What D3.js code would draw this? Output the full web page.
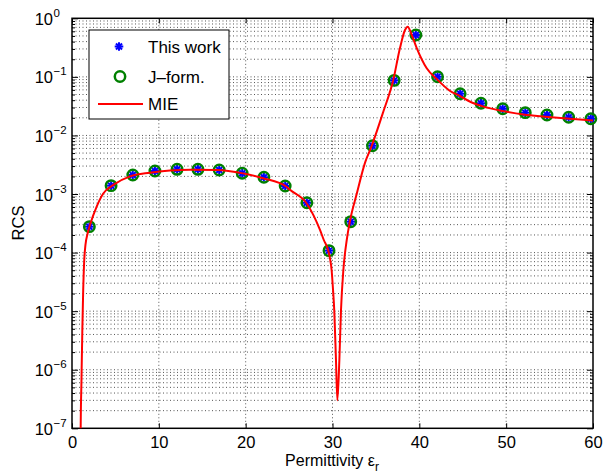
<!DOCTYPE html>
<html>
<head>
<meta charset="utf-8">
<script src="https://cdn.jsdelivr.net/npm/d3@7"></script>
<style>
  body { margin: 0; background: #fff; }
  svg { display: block; font-family: "Liberation Sans", Arial, sans-serif; }
</style>
</head>
<body>
<svg id="chart" width="603" height="475"></svg>
<script>
// permittivity values of the computed points
const pointEps = [2, 4.5, 7, 9.55, 12.1, 14.5, 16.95, 19.6, 22.1, 24.55, 27.05, 29.6,
  32.1, 34.6, 37.1, 39.6, 42.1, 44.7, 47.1, 49.6, 52.2, 54.7, 57.2, 59.75];
// "This work" and "J-form." give the same RCS at these points
const thisWork = [2.77e-4, 1.39e-3, 2.11e-3, 2.47e-3, 2.64e-3, 2.64e-3, 2.57e-3, 2.26e-3,
  1.93e-3, 1.37e-3, 7.1e-4, 1.08e-4, 3.37e-4, 6.68e-3, 8.7e-2, 0.519, 0.1007, 5.16e-2,
  3.54e-2, 2.86e-2, 2.45e-2, 2.23e-2, 2.04e-2, 1.93e-2];
const jForm = thisWork.slice();

// MIE reference curve
const mieEps = [0.99, 1.0, 1.09, 1.19, 1.29, 1.4, 1.55, 1.79, 2.07, 2.84, 3.6, 4.76, 6.68,
  8.98, 11.29, 13.6, 16.7, 19.7, 22.0, 24.7, 25.1, 27.03, 28.56, 29.0, 29.5, 29.7, 29.9,
  30.05, 30.2, 30.4, 30.56, 30.79, 30.98, 31.25, 31.64, 32.0, 32.8, 33.74, 34.51, 35.85,
  37.0, 37.77, 38.35, 38.66, 39.12, 39.7, 40.85, 42.0, 43.5, 44.7, 45.8, 47.4, 49.7, 52,
  54.5, 57, 60];
const mieRcs = [4e-8, 1e-7, 6.6e-7, 4.8e-6, 2.3e-5, 6.9e-5, 1.35e-4, 2.1e-4, 2.95e-4,
  6.1e-4, 1.02e-3, 1.43e-3, 2.0e-3, 2.31e-3, 2.51e-3, 2.6e-3, 2.57e-3, 2.25e-3, 1.86e-3,
  1.33e-3, 1.18e-3, 6.9e-4, 2.44e-4, 1.64e-4, 1.1e-4, 8.1e-5, 5e-5, 2.45e-5, 1.05e-5,
  1.47e-6, 3e-7, 1.47e-6, 1.05e-5, 5e-5, 1.64e-4, 3.4e-4, 1.02e-3, 3.4e-3, 6.6e-3,
  2.54e-2, 8.85e-2, 0.31, 0.63, 0.72, 0.52, 0.31, 0.14, 0.092, 0.058, 0.047, 0.038,
  0.031, 0.026, 0.0228, 0.0209, 0.0194, 0.018];

const xTicks = [0, 10, 20, 30, 40, 50, 60];
const yExponents = [0, -1, -2, -3, -4, -5, -6, -7];
const legendLabels = ["This work", "J\u2013form.", "MIE"];

const pL = 72, pR = 593, pT = 18.3, pB = 428.3;
const svg = d3.select("#chart");

const x = d3.scaleLinear().domain([0, 60]).range([pL, pR]);
const y = d3.scaleLog().domain([1e-7, 1]).range([pB, pT]);

const majorY = yExponents.map((e) => Math.pow(10, e));
const minorY = [];
yExponents.slice(1).forEach((e) => {
  for (let k = 2; k <= 9; k++) minorY.push(k * Math.pow(10, e));
});

// grid
const grid = svg.append("g")
  .attr("stroke", "#000")
  .attr("stroke-opacity", 0.75)
  .attr("stroke-width", 0.9)
  .attr("stroke-dasharray", "1,2.5");
grid.selectAll(".hg")
  .data(majorY.concat(minorY).filter((v) => v > 1e-7 && v < 1))
  .join("line")
  .attr("x1", pL).attr("x2", pR)
  .attr("y1", (d) => y(d)).attr("y2", (d) => y(d));
grid.selectAll(".vg")
  .data(xTicks.slice(1, -1))
  .join("line")
  .attr("y1", pT).attr("y2", pB)
  .attr("x1", (d) => x(d)).attr("x2", (d) => x(d));

// axes
const xAxis = svg.append("g")
  .attr("transform", `translate(0,${pB})`)
  .call(d3.axisBottom(x).tickValues(xTicks).tickSizeInner(-5).tickSizeOuter(0).tickPadding(8));
svg.append("g")
  .attr("transform", `translate(0,${pT})`)
  .call(d3.axisTop(x).tickValues(xTicks).tickSizeInner(-5).tickSizeOuter(0).tickFormat(""));
svg.append("g")
  .attr("transform", `translate(${pL},0)`)
  .call(d3.axisLeft(y).tickValues(majorY).tickSizeInner(-6).tickSizeOuter(0).tickFormat(""));
svg.append("g")
  .attr("transform", `translate(${pR},0)`)
  .call(d3.axisRight(y).tickValues(majorY).tickSizeInner(-6).tickSizeOuter(0).tickFormat(""));
svg.append("g")
  .attr("transform", `translate(${pL},0)`)
  .call(d3.axisLeft(y).tickValues(minorY).tickSizeInner(-3).tickSizeOuter(0).tickFormat(""));
svg.append("g")
  .attr("transform", `translate(${pR},0)`)
  .call(d3.axisRight(y).tickValues(minorY).tickSizeInner(-3).tickSizeOuter(0).tickFormat(""));

svg.selectAll(".domain").remove();
svg.selectAll(".tick line").attr("stroke", "#000").attr("stroke-width", 1);
xAxis.selectAll("text").attr("font-size", 16.5).attr("fill", "#000")
  .attr("font-family", "Liberation Sans, Arial, sans-serif");

// y tick labels: 10 with exponent
const yLab = svg.append("g").attr("fill", "#000");
yExponents.forEach((e) => {
  const ty = y(Math.pow(10, e));
  yLab.append("text")
    .attr("x", 53).attr("y", ty + 6.5)
    .attr("text-anchor", "end")
    .attr("font-size", 16.5)
    .text("10");
  yLab.append("text")
    .attr("x", 53.5).attr("y", ty - 1.5)
    .attr("font-size", 11.5)
    .text(e === 0 ? "0" : "\u2212" + Math.abs(e));
});

// plot box
svg.append("rect")
  .attr("x", pL).attr("y", pT)
  .attr("width", pR - pL).attr("height", pB - pT)
  .attr("fill", "none").attr("stroke", "#000").attr("stroke-width", 1.5);

svg.append("clipPath").attr("id", "plotclip")
  .append("rect")
  .attr("x", pL).attr("y", pT)
  .attr("width", pR - pL).attr("height", pB - pT);

const star = (g, r) => {
  [0, 45, 90, 135].forEach((a) => {
    const dx = r * Math.cos(a * Math.PI / 180), dy = r * Math.sin(a * Math.PI / 180);
    g.append("line")
      .attr("x1", -dx).attr("y1", -dy).attr("x2", dx).attr("y2", dy)
      .attr("stroke", "#0000ff").attr("stroke-width", 2);
  });
};

// This work (blue asterisks)
const pts = svg.append("g");
pointEps.forEach((e, i) => {
  const g = pts.append("g").attr("transform", `translate(${x(e)},${y(thisWork[i])})`);
  star(g, 4.3);
});

// J-form. (green circles)
svg.append("g")
  .selectAll("circle")
  .data(pointEps)
  .join("circle")
  .attr("cx", (d) => x(d))
  .attr("cy", (d, i) => y(jForm[i]))
  .attr("r", 5.2)
  .attr("fill", "none")
  .attr("stroke", "#008000")
  .attr("stroke-width", 2.5);

// MIE curve
const line = d3.line()
  .x((d) => x(d[0]))
  .y((d) => y(d[1]))
  .curve(d3.curveMonotoneX);
svg.append("path")
  .datum(mieEps.map((e, i) => [e, mieRcs[i]]))
  .attr("clip-path", "url(#plotclip)")
  .attr("fill", "none")
  .attr("stroke", "#ff0000")
  .attr("stroke-width", 2)
  .attr("d", line);

// legend
const lg = svg.append("g");
lg.append("rect")
  .attr("x", 89).attr("y", 30).attr("width", 140).attr("height", 89)
  .attr("fill", "#fff").attr("stroke", "#000").attr("stroke-width", 1);
const rowY = [46.5, 76.5, 104];
star(lg.append("g").attr("transform", `translate(119,${rowY[0]})`), 4.3);
lg.append("circle")
  .attr("cx", 120).attr("cy", rowY[1]).attr("r", 5.2)
  .attr("fill", "none").attr("stroke", "#008000").attr("stroke-width", 2.5);
lg.append("line")
  .attr("x1", 98).attr("x2", 143).attr("y1", rowY[2]).attr("y2", rowY[2])
  .attr("stroke", "#ff0000").attr("stroke-width", 2);
lg.selectAll("text")
  .data(legendLabels)
  .join("text")
  .attr("x", 148)
  .attr("y", (d, i) => rowY[i] + 6)
  .attr("font-size", 17)
  .attr("fill", "#000")
  .text((d) => d);

// axis labels
const xl = svg.append("text")
  .attr("x", 332).attr("y", 466)
  .attr("text-anchor", "middle")
  .attr("font-size", 16)
  .attr("fill", "#000");
xl.append("tspan").text("Permittivity \u03b5");
xl.append("tspan").attr("font-size", 12).attr("dy", 5).text("r");

svg.append("text")
  .attr("transform", "translate(24,223) rotate(-90)")
  .attr("text-anchor", "middle")
  .attr("font-size", 16.5)
  .attr("fill", "#000")
  .text("RCS");
</script>
</body>
</html>
